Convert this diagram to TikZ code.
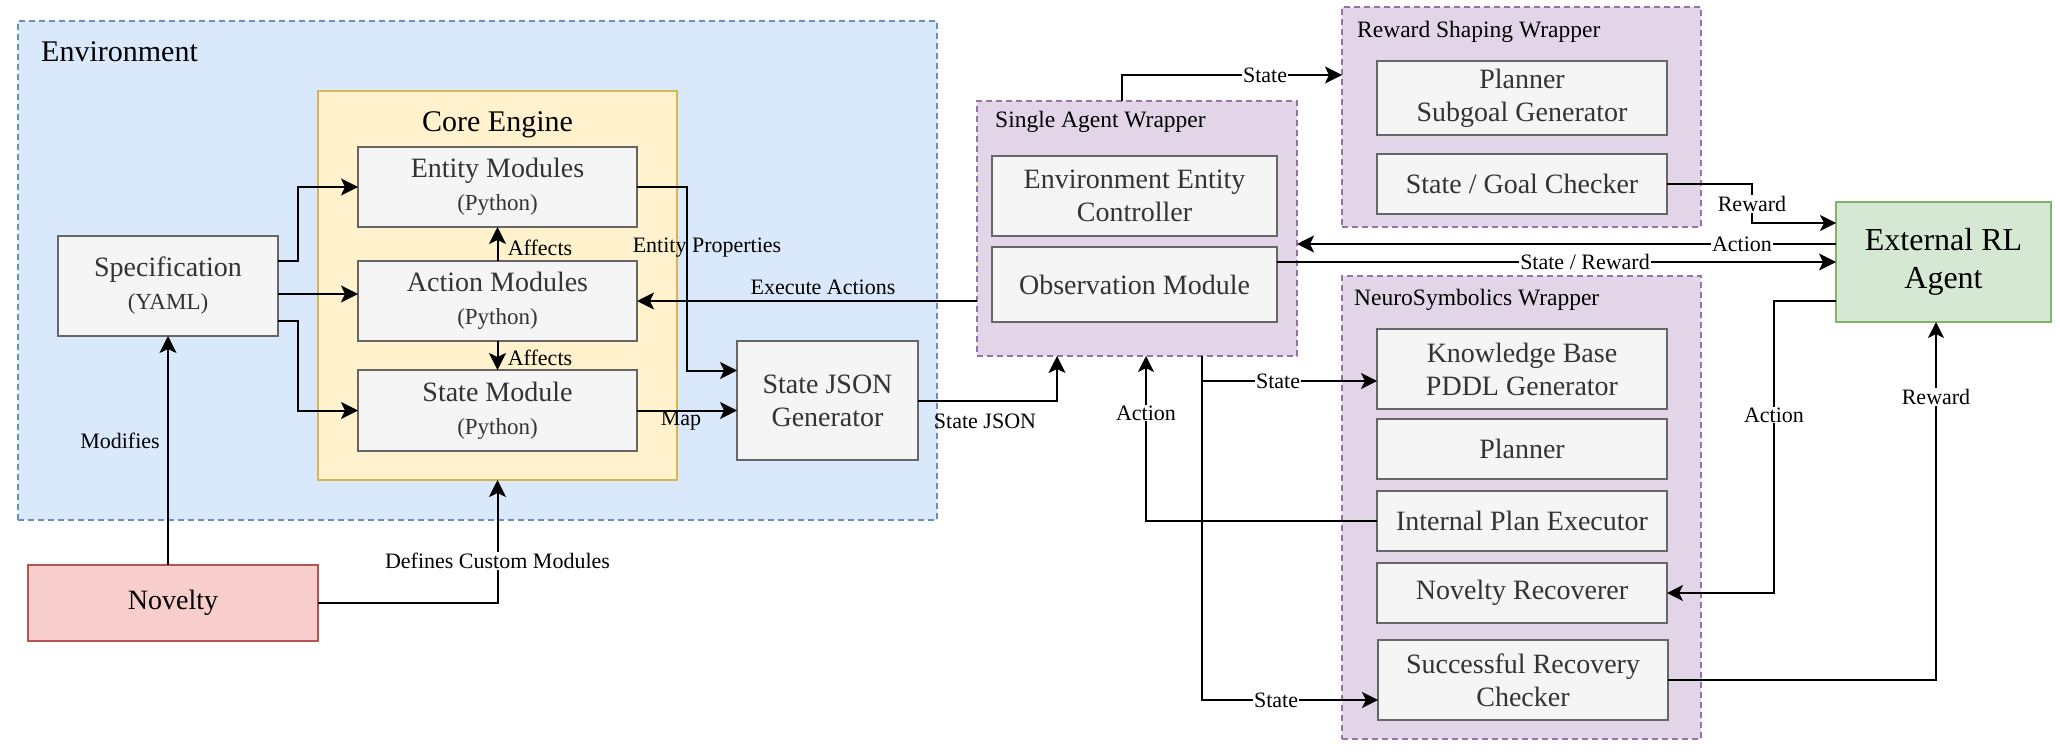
\documentclass[tikz,border=0pt]{standalone}
\usepackage{fontspec}
\setmainfont{Liberation Serif}
\usetikzlibrary{arrows.meta,calc}
\definecolor{envfill}{HTML}{DAE8FC}
\definecolor{envdraw}{HTML}{6C8EBF}
\definecolor{corefill}{HTML}{FFF2CC}
\definecolor{coredraw}{HTML}{D6B656}
\definecolor{wrapfill}{HTML}{E1D5E7}
\definecolor{wrapdraw}{HTML}{9673A6}
\definecolor{boxfill}{HTML}{F5F5F5}
\definecolor{boxdraw}{HTML}{666666}
\definecolor{boxtext}{HTML}{333333}
\definecolor{extfill}{HTML}{D5E8D4}
\definecolor{extdraw}{HTML}{82B366}
\definecolor{novfill}{HTML}{F8CECC}
\definecolor{novdraw}{HTML}{B85450}
\tikzset{
  container/.style={draw, line width=2pt, inner sep=0pt, outer sep=0pt},
  envbox/.style={container, fill=envfill, draw=envdraw, dash pattern=on 6pt off 4pt},
  corebox/.style={container, fill=corefill, draw=coredraw},
  wrapbox/.style={container, fill=wrapfill, draw=wrapdraw, dash pattern=on 6pt off 4pt},
  modbox/.style={draw=boxdraw, fill=boxfill, line width=2pt, text=boxtext, align=center,
    inner sep=0pt, outer sep=0pt, font=\fontsize{28}{33}\selectfont},
  bigtitle/.style={inner sep=0pt, font=\fontsize{30}{34}\selectfont},
  wraptitle/.style={inner sep=0pt, anchor=base west, font=\fontsize{23.5}{28}\selectfont},
  lbl/.style={inner sep=1pt, font=\fontsize{22}{26}\selectfont},
  wlbl/.style={lbl, fill=white},
  arr/.style={line width=2pt, -{Stealth[length=17pt, width=17pt, inset=4pt]}},
  tarr/.style={line width=1.6pt, -{Stealth[length=16pt, width=16pt, inset=4pt]}},
}
\newcommand{\pysub}[1]{{\fontsize{23}{28}\selectfont #1}}
\begin{document}
\begin{tikzpicture}[x=1pt,y=-1pt]
\useasboundingbox (0,0) rectangle (2060,754);

% containers
\node[envbox, minimum width=919pt, minimum height=499pt] (env) at (477.5,270.5) {};
\node[bigtitle, anchor=base west] (envt) at (41,62) {Environment};
\node[corebox, minimum width=359pt, minimum height=389pt] (core) at (497.5,285.5) {};
\node[bigtitle, anchor=base] (coret) at (497.5,132) {Core Engine};
\node[wrapbox, minimum width=320pt, minimum height=255pt] (saw) at (1137,228.5) {};
\node[wraptitle] (sawt) at (995,128) {Single Agent Wrapper};
\node[wrapbox, minimum width=359pt, minimum height=220pt] (rsw) at (1521.5,117) {};
\node[wraptitle] (rswt) at (1357,37.5) {Reward Shaping Wrapper};
\node[wrapbox, minimum width=359pt, minimum height=463pt] (nsw) at (1521.5,507.5) {};
\node[wraptitle] (nswt) at (1354,305) {NeuroSymbolics Wrapper};

% modules
\node[modbox, minimum width=279pt, minimum height=80pt] (entity) at (497.5,187) {Entity Modules\\\pysub{(Python)}};
\node[modbox, minimum width=279pt, minimum height=80pt] (action) at (497.5,301) {Action Modules\\\pysub{(Python)}};
\node[modbox, minimum width=279pt, minimum height=81pt] (state) at (497.5,410.5) {State Module\\\pysub{(Python)}};
\node[modbox, minimum width=220pt, minimum height=100pt] (spec) at (168,286) {Specification\\\pysub{(YAML)}};
\node[modbox, minimum width=181pt, minimum height=119pt] (sjson) at (827.5,400.5) {State JSON\\Generator};
\node[modbox, fill=novfill, draw=novdraw, text=black, minimum width=290pt, minimum height=76pt] (novelty) at (173,603) {Novelty};
\node[modbox, minimum width=285pt, minimum height=80pt] (eec) at (1134.5,196) {Environment Entity\\Controller};
\node[modbox, minimum width=285pt, minimum height=75pt] (obs) at (1134.5,284.5) {Observation Module};
\node[modbox, minimum width=290pt, minimum height=74pt] (psg) at (1522,98) {Planner\\Subgoal Generator};
\node[modbox, minimum width=290pt, minimum height=60pt] (sgc) at (1522,184) {State / Goal Checker};
\node[modbox, minimum width=290pt, minimum height=80pt] (kb) at (1522,369) {Knowledge Base\\PDDL Generator};
\node[modbox, minimum width=290pt, minimum height=60pt] (planner) at (1522,449) {Planner};
\node[modbox, minimum width=290pt, minimum height=60pt] (ipe) at (1522,521) {Internal Plan Executor};
\node[modbox, minimum width=290pt, minimum height=60pt] (nr) at (1522,593) {Novelty Recoverer};
\node[modbox, minimum width=290pt, minimum height=80pt] (src) at (1523,680) {Successful Recovery\\Checker};
\node[modbox, fill=extfill, draw=extdraw, text=black, minimum width=215pt, minimum height=120pt,
  font=\fontsize{32}{38}\selectfont] (ext) at (1943.5,262) {External RL\\Agent};

% connectors
\draw[arr] ($(spec.east)+(0,-25)$) -- ++(20,0) |- (entity.west);
\draw[arr] ($(spec.east)+(0,8)$) -- ($(action.west)+(0,-7)$);
\draw[arr] ($(spec.east)+(0,35)$) -- ++(20,0) |- (state.west);
\draw[arr] (action.north) -- (entity.south);
\draw[arr] (action.south) -- (state.north);
\draw[arr] (entity.east) -- ++(50,0) |- ($(sjson.west)+(0,-30)$);
\draw[arr] (state.east) -- (state.east -| sjson.west);
\draw[arr] (saw.west |- action.east) -- (action.east);
\draw[arr] (sjson.east) -| ($(saw.south west)+(80,0)$);
\draw[tarr] (ipe.west) -| ($(saw.south west)+(169,0)$);
\draw[tarr] ($(saw.south west)+(225,0)$) |- ($(kb.west)+(0,12)$);
\draw[tarr] ($(saw.south west)+(225,0)$) |- ($(src.west)+(0,20)$);
\draw[arr] ($(saw.north west)+(145,0)$) |- ($(rsw.west)+(0,-42)$);
\draw[tarr] (sgc.east) -- ++(85,0) |- ($(ext.west)+(0,-39)$);
\draw[arr] ($(ext.west)+(0,-18)$) coordinate (extA) -- (extA -| saw.east);
\draw[arr] (obs.east |- ext.west) -- (ext.west);
\draw[tarr] ($(ext.west)+(0,39)$) -- ++(-62,0) |- (nr.east);
\draw[tarr] (src.east) -| ($(ext.south west)+(100,0)$);
\draw[arr] (spec.south |- novelty.north) -- (spec.south);
\draw[arr] (novelty.east) -| (core.south);

% labels
\node[lbl] (lAff1) at (540,248) {Affects};
\node[lbl] (lAff2) at (540,358) {Affects};
\node[lbl] (lEP) at (707,248) {Entity Properties};
\node[lbl] (lEA) at (823,287) {Execute Actions};
\node[lbl] (lMap) at (681,421) {Map};
\node[lbl] (lSJ) at (985,421) {State JSON};
\node[lbl] (lMod) at (120,441) {Modifies};
\node[wlbl] (lDCM) at (497.5,561) {Defines Custom Modules};
\node[wlbl] (lAct1) at (1146,413) {Action};
\node[wlbl] (lSt1) at (1265,75) {State};
\node[wlbl] (lSt2) at (1278,381) {State};
\node[wlbl] (lSt3) at (1276,700) {State};
\node[wlbl] (lRw1) at (1752,204) {Reward};
\node[wlbl] (lAct2) at (1742,244) {Action};
\node[wlbl] (lSR) at (1585,262) {State / Reward};
\node[wlbl] (lAct3) at (1774,415) {Action};
\node[wlbl] (lRw2) at (1936,397) {Reward};
\end{tikzpicture}
\end{document}
